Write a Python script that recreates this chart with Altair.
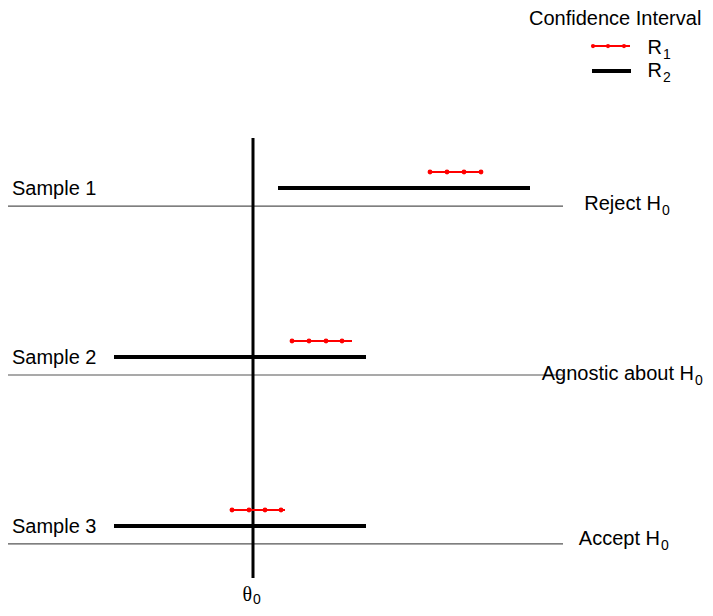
import altair as alt
import pandas as pd

# ---- data (x: offset from theta0, y: sample level) ----
samples = ["Sample 1", "Sample 2", "Sample 3"]
levels = [3, 2, 1]
decisions = ["Reject H", "Agnostic about H", "Accept H"]
decision_sub = ["0", "0", "0"]
decision_end = [408, 441, 407]
decision_base = [2.976, 1.970, 0.994]

r2_lo = [25, -139, -139]
r2_hi = [277, 113, 113]
r1_lo = [176, 37, -22]
r1_hi = [230, 99, 32]
r1_pts = [[177, 194, 211, 228], [39, 56, 73, 89], [-21, -4, 12, 28]]

line_lo, line_hi = -245, 310
theta_lo, theta_hi = 0.799, 3.402
r2_off = 0.107
r1_off = 0.201
label_off = 0.065

legend_title = "Confidence Interval"
legend_main = ["R", "R"]
legend_sub = ["1", "2"]
legend_base = [3.899, 3.763]
legend_line_y = [3.947, 3.799]

XS = alt.Scale(domain=[-245, 452], nice=False, zero=False)
YS = alt.Scale(domain=[0.621, 4.172], nice=False, zero=False)
FONT = "Liberation Sans"
FS = 20
SUB = 14


def X(f="x"):
    return alt.X(f"{f}:Q", scale=XS, axis=None)


def Y(f="y"):
    return alt.Y(f"{f}:Q", scale=YS, axis=None)


base_df = pd.DataFrame({"x": [line_lo] * 3, "x2": [line_hi] * 3, "y": levels})
r2_df = pd.DataFrame({"x": r2_lo, "x2": r2_hi, "y": [l + r2_off for l in levels]})
r1_df = pd.DataFrame({"x": r1_lo, "x2": r1_hi, "y": [l + r1_off for l in levels]})
pts_df = pd.DataFrame(
    [{"x": p, "y": l + r1_off} for l, ps in zip(levels, r1_pts) for p in ps]
)
lab_df = pd.DataFrame({"x": [-241] * 3, "y": [l + label_off for l in levels], "t": samples})
dec_df = pd.DataFrame({"x": decision_end, "y": decision_base, "t": decisions})
dec_sub_df = pd.DataFrame({"x": [e + 1 for e in decision_end], "y": decision_base, "t": decision_sub})
theta_df = pd.DataFrame({"x": [0], "y": [theta_lo], "y2": [theta_hi]})
theta_lab = pd.DataFrame({"x": [-1], "y": [0.663], "t": ["θ"]})
theta_sub = pd.DataFrame({"x": [0], "y": [0.663], "t": ["0"]})

leg_r1 = pd.DataFrame({"x": [339], "x2": [377], "y": [legend_line_y[0]]})
leg_r1p = pd.DataFrame({"x": [340, 355, 371], "y": [legend_line_y[0]] * 3})
leg_r2 = pd.DataFrame({"x": [339], "x2": [378], "y": [legend_line_y[1]]})
leg_title = pd.DataFrame({"x": [276], "y": [4.071], "t": [legend_title]})
leg_lab = pd.DataFrame({"x": [409, 409], "y": legend_base, "t": legend_main})
leg_sub = pd.DataFrame({"x": [410, 410], "y": legend_base, "t": legend_sub})


def txt(df, align, size=FS, dy=0, font=FONT):
    return alt.Chart(df).mark_text(
        align=align, baseline="alphabetic", fontSize=size, font=font, color="black", dy=dy
    ).encode(x=X(), y=Y(), text="t:N")


layers = [
    alt.Chart(base_df).mark_rule(color="#555555", strokeWidth=1.2).encode(x=X(), x2="x2", y=Y()),
    alt.Chart(theta_df).mark_rule(color="black", strokeWidth=3).encode(x=X(), y=Y(), y2="y2"),
    alt.Chart(r2_df).mark_rule(color="black", strokeWidth=4).encode(x=X(), x2="x2", y=Y()),
    alt.Chart(r1_df).mark_rule(color="red", strokeWidth=2).encode(x=X(), x2="x2", y=Y()),
    alt.Chart(pts_df).mark_point(color="red", filled=True, opacity=1, size=24, shape="circle").encode(x=X(), y=Y()),
    txt(lab_df, "left"),
    txt(dec_df, "right"),
    txt(dec_sub_df, "left", SUB, 5),
    txt(theta_lab, "right", FS, 0, "Liberation Serif"),
    txt(theta_sub, "left", SUB, 3),
    alt.Chart(leg_r1).mark_rule(color="red", strokeWidth=2).encode(x=X(), x2="x2", y=Y()),
    alt.Chart(leg_r1p).mark_point(color="red", filled=True, opacity=1, size=18, shape="circle").encode(x=X(), y=Y()),
    alt.Chart(leg_r2).mark_rule(color="black", strokeWidth=4).encode(x=X(), x2="x2", y=Y()),
    txt(leg_title, "left"),
    txt(leg_lab, "right"),
    txt(leg_sub, "left", SUB, 5),
]

chart = (
    alt.layer(*layers)
    .properties(width=697, height=600, padding=0, autosize=alt.AutoSizeParams(type="none"))
    .configure_view(stroke=None)
)

chart.save("out.html", embed_options={"renderer": "svg", "actions": False})
